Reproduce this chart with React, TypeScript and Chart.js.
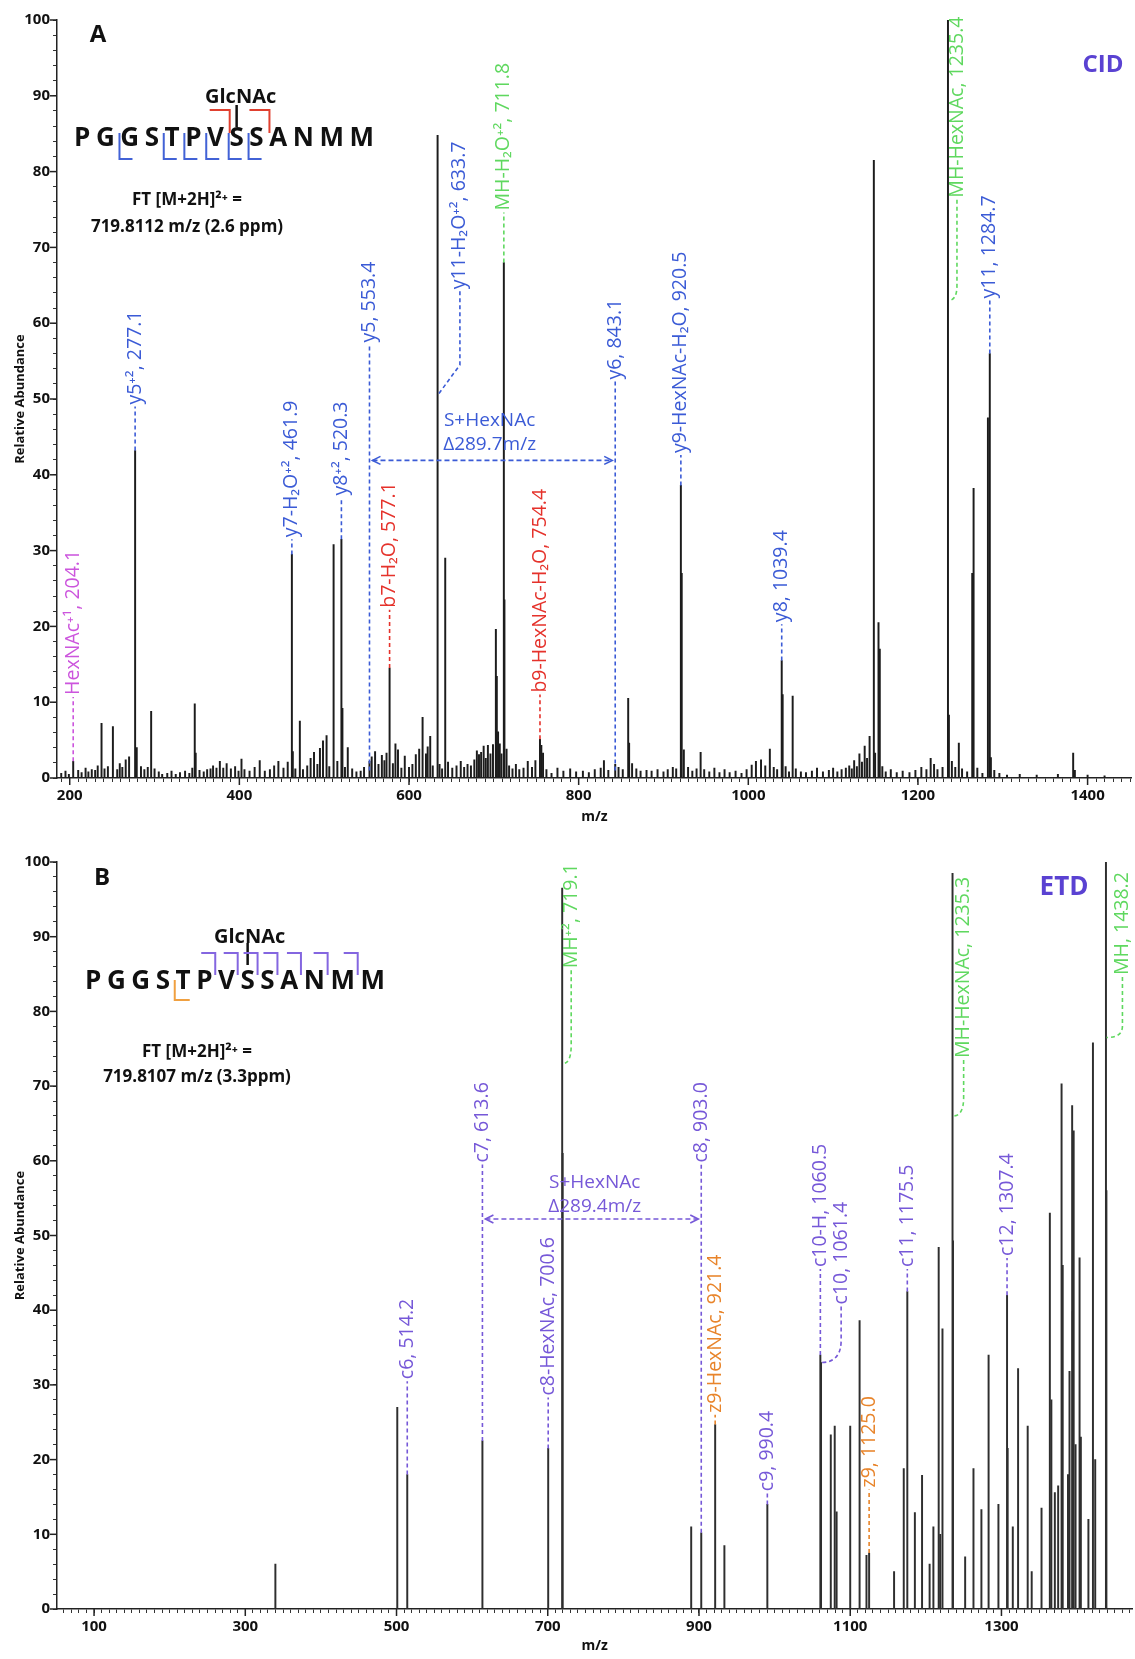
import React, { useEffect, useRef } from 'react';
import { Chart, registerables } from 'chart.js';

Chart.register(...registerables);

const FONT = "'Open Sans', 'DejaVu Sans', sans-serif";

const BLUE = '#3b5bd6';
const RED = '#e5322b';
const GREEN = '#5fd85f';
const MAGENTA = '#cc55dd';
const PURPLE = '#7658d8';
const ORANGE = '#e8842a';
const TITLE_VIOLET = '#5a42d2';

// ---------- shared axis tick labels ----------
const Y_TICK_LABELS = [0, 10, 20, 30, 40, 50, 60, 70, 80, 90, 100];
const A_X_TICK_LABELS = [200, 400, 600, 800, 1000, 1200, 1400];
const B_X_TICK_LABELS = [100, 300, 500, 700, 900, 1100, 1300];

const SEQUENCE = ['P', 'G', 'G', 'S', 'T', 'P', 'V', 'S', 'S', 'A', 'N', 'M', 'M'];
const A_Y_ION_SITES = [2, 4, 5, 6, 7, 8];
const A_B_ION_SITES = [7, 9];
const B_C_ION_SITES = [6, 7, 8, 9, 10, 11, 12];
const B_Z_ION_SITES = [4];

// ---------- Panel A (CID) peaks: [m/z, relative abundance] ----------
const A_PEAKS_MAJOR: [number, number][] = [
  [204.1, 2.2], [237.5, 7.2], [250.9, 6.8], [277.1, 43.2], [296.0, 8.8], [347.4, 9.8],
  [461.9, 29.5], [471.3, 7.5], [511.1, 30.8], [520.3, 31.5], [577.1, 14.5], [616.0, 8.0],
  [633.7, 84.8], [642.7, 29.0], [702.4, 19.6], [711.8, 68.0], [712.5, 23.5], [754.4, 5.1],
  [858.4, 10.5], [920.5, 38.6], [921.5, 27.0], [1039.4, 15.5], [1040.5, 11.0], [1052.3, 10.8],
  [1148.0, 81.5], [1153.5, 20.5], [1155.0, 17.0], [1235.4, 100], [1264.0, 27.0], [1265.6, 38.2],
  [1282.5, 47.5], [1284.7, 56.0], [1383.0, 3.3],
];

const A_PEAKS_MINOR: [number, number][] = [
  [190, 0.6], [195, 0.9], [199, 0.5], [210, 1.0], [214, 0.7], [218.7, 1.3], [222, 0.8], [226, 1.1],
  [230, 1.0], [233, 1.6], [241, 1.2], [245, 1.5], [256, 1.1], [259, 1.9], [262, 1.4], [266, 2.4],
  [270, 2.8], [279, 4.0], [284, 1.5], [288, 1.1], [292, 1.4], [300, 1.2], [305, 0.8], [309, 0.5],
  [315, 0.6], [320, 0.9], [325, 0.5], [330, 0.7], [336, 0.9], [341, 0.6], [344.5, 1.3], [348.5, 3.3],
  [353, 1.0], [358, 0.8], [362, 1.1], [366, 1.2], [369, 1.6], [373, 1.3], [377, 2.2], [381, 1.3],
  [385, 1.9], [390, 1.2], [395, 1.5], [399, 0.9], [402.5, 2.5], [406, 1.1], [412, 0.9], [418, 1.4],
  [424, 2.3], [430, 0.9], [436, 1.1], [441, 1.6], [446, 2.2], [452, 1.3], [457, 2.1], [463, 3.5],
  [466, 1.2], [475, 1.1], [480, 1.6], [484, 2.6], [488, 3.4], [492, 1.8], [495, 3.9], [498.6, 4.9],
  [502.8, 5.6], [506, 1.5], [515.5, 2.2], [521.5, 9.2], [524.5, 1.4], [527.8, 4.0], [533, 1.2],
  [538, 0.8], [543, 0.9], [547, 1.4], [553.4, 2.2], [556, 2.8], [560, 3.5], [564, 1.8], [568, 3.0],
  [571, 2.3], [573.5, 3.3], [581, 1.9], [584, 4.5], [587, 3.7], [591, 1.3], [595, 2.9], [600, 1.4],
  [604, 1.8], [608, 3.1], [612, 3.8], [620, 3.2], [622, 4.1], [625, 5.5], [628, 1.6], [636, 1.8],
  [639, 1.2], [646, 2.1], [651, 1.3], [656, 1.6], [661, 2.2], [665, 1.4], [669, 1.8], [673, 1.6],
  [677, 2.4], [680, 3.6], [682.5, 3.1], [685, 3.4], [688, 4.2], [690.5, 2.6], [693, 4.3], [696, 3.2],
  [699, 4.4], [703.5, 13.4], [705, 6.1], [707, 4.5], [709, 3.2], [715, 3.8], [718, 1.6], [722, 1.2],
  [726, 1.8], [730, 1.1], [735, 1.3], [740, 2.2], [745, 1.4], [749, 2.3], [756, 4.3], [758, 3.3],
  [762, 1.1], [768, 0.6], [775, 1.3], [782, 0.9], [790, 1.2], [797, 0.8], [805, 0.9], [812, 0.7],
  [819, 1.1], [826, 1.3], [829.8, 2.3], [835, 1.0], [843.1, 1.8], [847, 1.4], [852, 1.1], [859.5, 4.6],
  [863, 1.9], [868, 1.2], [873, 0.9], [880, 1.0], [886, 0.9], [893, 1.1], [900, 0.8], [905, 1.1],
  [911, 1.4], [915, 1.2], [924, 3.7], [929, 1.4], [934, 0.9], [939, 1.2], [943.8, 3.4], [948, 1.1],
  [954, 0.8], [960, 1.3], [966, 0.7], [972, 1.1], [978, 0.7], [985, 0.9], [992, 0.6], [998, 1.1],
  [1004, 1.7], [1009, 2.2], [1015, 2.4], [1020, 1.6], [1025.4, 3.8], [1030, 1.4], [1034, 1.1],
  [1044, 1.5], [1048, 0.8], [1056, 1.2], [1062, 0.8], [1068, 0.7], [1075, 0.9], [1081, 1.3],
  [1088, 0.8], [1095, 1.0], [1100, 1.3], [1105, 0.8], [1110, 1.1], [1115, 1.3], [1119, 1.6],
  [1122, 1.2], [1124.8, 2.3], [1128, 1.5], [1131, 3.2], [1134, 2.1], [1137.2, 4.2], [1140, 2.6],
  [1143, 5.5], [1149.5, 3.3], [1158, 1.5], [1162, 0.8], [1168, 1.1], [1175, 0.7], [1182, 0.9],
  [1190, 0.7], [1197, 1.0], [1204, 1.4], [1210, 1.1], [1215, 2.6], [1219, 1.8], [1223, 1.1],
  [1229, 1.4], [1236.5, 8.3], [1240, 2.2], [1244, 1.4], [1248.2, 4.6], [1252, 1.2], [1258, 0.8],
  [1270, 1.3], [1276, 0.6], [1286, 2.7], [1290, 1.0], [1296, 0.6], [1305, 0.4], [1320, 0.5],
  [1340, 0.4], [1365, 0.5], [1385, 1.0], [1400, 0.4], [1420, 0.3],
];

// ---------- Panel B (ETD) peaks ----------
const B_PEAKS: [number, number][] = [
  [339.8, 6.0], [501.0, 27.0], [514.2, 18.0], [613.6, 22.5], [700.6, 21.5], [719.1, 96.5],
  [719.7, 61.0], [889.7, 11.0], [903.0, 10.2], [921.4, 24.7], [933.6, 8.5], [990.4, 14.0],
  [1060.5, 34.0], [1061.4, 33.0], [1074.3, 23.3], [1079.5, 24.5], [1082.0, 13.0], [1100.0, 24.5],
  [1112.4, 38.6], [1121.5, 7.2], [1125.0, 7.5], [1158.0, 5.0], [1170.8, 18.8], [1175.5, 42.5],
  [1185.5, 12.9], [1195.0, 17.9], [1205.0, 6.0], [1210.0, 11.0], [1217.0, 48.4], [1219.0, 10.0],
  [1222.0, 37.5], [1235.3, 98.5], [1235.9, 49.3], [1252.0, 7.0], [1263.0, 18.8], [1273.5, 13.3],
  [1283.0, 34.0], [1296.0, 14.0], [1307.4, 42.0], [1308.2, 21.5], [1315.0, 11.0], [1322.0, 32.2],
  [1334.7, 24.5], [1340.0, 5.0], [1353.0, 13.5], [1364.0, 53.0], [1366.0, 28.0], [1370.6, 15.6],
  [1375.0, 16.5], [1379.5, 70.3], [1381.0, 46.0], [1388.0, 18.0], [1390.0, 31.8], [1393.5, 67.4],
  [1394.3, 39.8], [1395.5, 64.0], [1398.0, 22.0], [1403.3, 47.0], [1405.0, 23.0], [1415.0, 12.0],
  [1421.0, 75.8], [1424.0, 20.0], [1438.2, 100.0], [1438.8, 56.0],
];

type Ann = {
  text: string; mz: number; peak: number; textBottom: number; color: string;
  textMz?: number; elbow?: number; curve?: boolean;
};

const A_LABELS: Ann[] = [
  { text: 'HexNAc⁺¹, 204.1', mz: 204.1, peak: 2.2, textBottom: 10.7, color: MAGENTA },
  { text: 'y5⁺², 277.1', mz: 277.1, peak: 43.2, textBottom: 49.0, color: BLUE },
  { text: 'y7-H₂O⁺², 461.9', mz: 461.9, peak: 29.5, textBottom: 31.5, color: BLUE },
  { text: 'y8⁺², 520.3', mz: 520.3, peak: 31.5, textBottom: 37.0, color: BLUE },
  { text: 'y5, 553.4', mz: 553.4, peak: 1.0, textBottom: 57.2, color: BLUE },
  { text: 'b7-H₂O, 577.1', mz: 577.1, peak: 14.5, textBottom: 22.2, color: RED },
  { text: 'y11-H₂O⁺², 633.7', mz: 634.5, peak: 50.6, textBottom: 64.2, textMz: 660, elbow: 54.5, color: BLUE },
  { text: 'MH-H₂O⁺², 711.8', mz: 711.8, peak: 68.0, textBottom: 74.6, color: GREEN },
  { text: 'b9-HexNAc-H₂O, 754.4', mz: 754.4, peak: 5.1, textBottom: 11.0, color: RED },
  { text: 'y6, 843.1', mz: 843.1, peak: 1.0, textBottom: 52.3, color: BLUE },
  { text: 'y9-HexNAc-H₂O, 920.5', mz: 920.5, peak: 38.6, textBottom: 42.6, color: BLUE },
  { text: 'y8, 1039.4', mz: 1039.4, peak: 15.5, textBottom: 20.3, color: BLUE },
  { text: 'MH-HexNAc, 1235.4', mz: 1236, peak: 63.0, textBottom: 76.3, textMz: 1246, elbow: 65.0, curve: true, color: GREEN },
  { text: 'y11, 1284.7', mz: 1284.7, peak: 56.0, textBottom: 63.0, color: BLUE },
];

const B_LABELS: Ann[] = [
  { text: 'c6, 514.2', mz: 514.2, peak: 18.0, textBottom: 30.5, color: PURPLE },
  { text: 'c7, 613.6', mz: 613.6, peak: 22.5, textBottom: 59.5, color: PURPLE },
  { text: 'c8-HexNAc, 700.6', mz: 700.6, peak: 21.5, textBottom: 28.3, color: PURPLE },
  { text: 'MH⁺², 719.1', mz: 719.6, peak: 73.0, textBottom: 85.5, textMz: 731, elbow: 75.5, curve: true, color: GREEN },
  { text: 'c8, 903.0', mz: 903.0, peak: 10.2, textBottom: 59.5, color: PURPLE },
  { text: 'z9-HexNAc, 921.4', mz: 921.4, peak: 24.7, textBottom: 26.0, color: ORANGE },
  { text: 'c9, 990.4', mz: 990.4, peak: 14.0, textBottom: 15.5, color: PURPLE },
  { text: 'c10-H, 1060.5', mz: 1060.5, peak: 34.0, textBottom: 45.5, color: PURPLE },
  { text: 'c10, 1061.4', mz: 1062, peak: 33.0, textBottom: 40.5, textMz: 1088, elbow: 36.0, curve: true, color: PURPLE },
  { text: 'z9, 1125.0', mz: 1125.0, peak: 7.5, textBottom: 16.0, color: ORANGE },
  { text: 'c11, 1175.5', mz: 1175.5, peak: 42.5, textBottom: 45.5, color: PURPLE },
  { text: 'MH-HexNAc, 1235.3', mz: 1236, peak: 66.0, textBottom: 73.5, textMz: 1250, elbow: 68.5, curve: true, color: GREEN },
  { text: 'c12, 1307.4', mz: 1307.4, peak: 42.0, textBottom: 47.0, color: PURPLE },
  { text: 'MH, 1438.2', mz: 1439, peak: 76.5, textBottom: 84.6, textMz: 1460, elbow: 78, curve: true, color: GREEN },
];

type Delta = { from: number; to: number; level: number; textMz: number; line1: number; line2: number; text1: string; text2: string; color: string };
const A_DELTA: Delta = { from: 553.4, to: 843.1, level: 41.9, textMz: 695, line1: 47.2, line2: 44.0, text1: 'S+HexNAc', text2: 'Δ289.7m/z', color: BLUE };
const B_DELTA: Delta = { from: 613.6, to: 903.0, level: 52.2, textMz: 762, line1: 57.1, line2: 53.9, text1: 'S+HexNAc', text2: 'Δ289.4m/z', color: PURPLE };

// ---------- drawing helpers ----------
function seg(ctx: CanvasRenderingContext2D, x1: number, y1: number, x2: number, y2: number) {
  ctx.beginPath(); ctx.moveTo(x1, y1); ctx.lineTo(x2, y2); ctx.stroke();
}

function txt(ctx: CanvasRenderingContext2D, s: string, x: number, y: number, font: string, color: string, align: CanvasTextAlign = 'center') {
  ctx.font = font; ctx.fillStyle = color; ctx.textAlign = align; ctx.textBaseline = 'middle';
  ctx.fillText(s, x, y);
}

function drawPeptide(ctx: CanvasRenderingContext2D, left: number, width: number, cy: number, size: number) {
  ctx.font = `bold ${size}px ${FONT}`;
  const ws = SEQUENCE.map((s) => ctx.measureText(s).width);
  const sum = ws.reduce((a, b) => a + b, 0);
  const gap = (width - sum) / (SEQUENCE.length - 1);
  const lefts: number[] = [];
  let x = left;
  ws.forEach((w) => { lefts.push(x); x += w + gap; });
  ctx.fillStyle = '#111'; ctx.textAlign = 'left'; ctx.textBaseline = 'alphabetic';
  SEQUENCE.forEach((s, i) => ctx.fillText(s, lefts[i], cy + size * 0.357));
  const centers = lefts.map((l, i) => l + ws[i] / 2);
  const bounds = lefts.slice(1).map((l, i) => (lefts[i] + ws[i] + l) / 2);
  return { centers, bounds };
}

function drawAnn(ctx: CanvasRenderingContext2D, a: Ann, X: (v: number) => number, Y: (v: number) => number) {
  const x0 = X(a.mz), y0 = Y(a.peak);
  const xt = X(a.textMz ?? a.mz), yt = Y(a.textBottom);
  ctx.save();
  ctx.strokeStyle = a.color; ctx.lineWidth = 1.6; ctx.setLineDash([4, 3]);
  ctx.beginPath();
  if (a.textMz === undefined) {
    ctx.moveTo(x0, y0); ctx.lineTo(x0, yt);
  } else {
    ctx.moveTo(xt, yt); ctx.lineTo(xt, Y(a.elbow as number));
    if (a.curve) ctx.quadraticCurveTo(xt, y0, x0, y0); else ctx.lineTo(x0, y0);
  }
  ctx.stroke();
  ctx.setLineDash([]);
  ctx.translate(xt, yt - 2);
  ctx.rotate(-Math.PI / 2);
  ctx.font = `19.5px ${FONT}`; ctx.fillStyle = a.color; ctx.textAlign = 'left'; ctx.textBaseline = 'middle';
  ctx.fillText(a.text, 0, 0);
  ctx.restore();
}

function drawDelta(ctx: CanvasRenderingContext2D, d: Delta, X: (v: number) => number, Y: (v: number) => number) {
  const x1 = X(d.from), x2 = X(d.to), y = Y(d.level);
  ctx.save();
  ctx.strokeStyle = d.color; ctx.lineWidth = 1.6; ctx.setLineDash([5, 3]);
  seg(ctx, x1 + 3, y, x2 - 3, y);
  ctx.setLineDash([]);
  ctx.beginPath(); ctx.moveTo(x1 + 11, y - 4); ctx.lineTo(x1 + 3, y); ctx.lineTo(x1 + 11, y + 4); ctx.stroke();
  ctx.beginPath(); ctx.moveTo(x2 - 11, y - 4); ctx.lineTo(x2 - 3, y); ctx.lineTo(x2 - 11, y + 4); ctx.stroke();
  txt(ctx, d.text1, X(d.textMz), Y(d.line1), `19px ${FONT}`, d.color);
  txt(ctx, d.text2, X(d.textMz), Y(d.line2), `19px ${FONT}`, d.color);
  ctx.restore();
}

function headerA(ctx: CanvasRenderingContext2D) {
  txt(ctx, 'A', 98, 35, `bold 24px ${FONT}`, '#111');
  txt(ctx, 'CID', 1103, 65, `bold 24px ${FONT}`, TITLE_VIOLET);
  const pep = drawPeptide(ctx, 74, 300, 137, 26);
  const s8 = pep.centers[7];
  txt(ctx, 'GlcNAc', s8 + 4, 97, `bold 20px ${FONT}`, '#111');
  ctx.strokeStyle = '#111'; ctx.lineWidth = 2.5; seg(ctx, s8, 105, s8, 127);
  ctx.lineWidth = 2;
  ctx.strokeStyle = '#4262d6';
  A_Y_ION_SITES.forEach((k) => {
    const bx = pep.bounds[k - 1] + 2;
    ctx.beginPath(); ctx.moveTo(bx, 133); ctx.lineTo(bx, 159); ctx.lineTo(bx + 13, 159); ctx.stroke();
  });
  ctx.strokeStyle = '#e0402f';
  A_B_ION_SITES.forEach((k) => {
    const bx = pep.bounds[k - 1] + 3;
    ctx.beginPath(); ctx.moveTo(bx - 20, 110); ctx.lineTo(bx, 110); ctx.lineTo(bx, 133); ctx.stroke();
  });
  txt(ctx, 'FT [M+2H]²⁺ =', 187, 200, `bold 17px ${FONT}`, '#111');
  txt(ctx, '719.8112 m/z (2.6 ppm)', 187, 227, `bold 17px ${FONT}`, '#111');
}

function headerB(ctx: CanvasRenderingContext2D) {
  txt(ctx, 'B', 102, 46, `bold 24px ${FONT}`, '#111');
  txt(ctx, 'ETD', 1064, 56, `bold 26px ${FONT}`, TITLE_VIOLET);
  const pep = drawPeptide(ctx, 85, 300, 148, 26);
  const s8 = pep.centers[7];
  txt(ctx, 'GlcNAc', s8 + 2, 105, `bold 20px ${FONT}`, '#111');
  ctx.strokeStyle = '#111'; ctx.lineWidth = 2.5; seg(ctx, s8, 111, s8, 133);
  ctx.lineWidth = 2;
  ctx.strokeStyle = '#8466e0';
  B_C_ION_SITES.forEach((k) => {
    const bx = pep.bounds[k - 1];
    ctx.beginPath(); ctx.moveTo(bx - 14, 121); ctx.lineTo(bx, 121); ctx.lineTo(bx, 143); ctx.stroke();
  });
  ctx.strokeStyle = '#f0a040';
  B_Z_ION_SITES.forEach((k) => {
    const bx = pep.bounds[k - 1] + 2;
    ctx.beginPath(); ctx.moveTo(bx, 148); ctx.lineTo(bx, 168); ctx.lineTo(bx + 15, 168); ctx.stroke();
  });
  txt(ctx, 'FT [M+2H]²⁺ =', 197, 220, `bold 17px ${FONT}`, '#111');
  txt(ctx, '719.8107 m/z (3.3ppm)', 197, 245, `bold 17px ${FONT}`, '#111');
}

type Panel = {
  name: string; peaks: [number, number][]; xMin: number; xMax: number; xLabels: number[];
  padTop: number; xAxisHeight: number; barColor: string; labels: Ann[]; delta: Delta;
  header: (ctx: CanvasRenderingContext2D) => void;
};

const PANEL_A: Panel = {
  name: 'A', peaks: [...A_PEAKS_MAJOR, ...A_PEAKS_MINOR].sort((a, b) => a[0] - b[0]),
  xMin: 185, xMax: 1452, xLabels: A_X_TICK_LABELS, padTop: 20, xAxisHeight: 52,
  barColor: '#1c1c1c', labels: A_LABELS, delta: A_DELTA, header: headerA,
};
const PANEL_B: Panel = {
  name: 'B', peaks: [...B_PEAKS].sort((a, b) => a[0] - b[0]),
  xMin: 51, xMax: 1473, xLabels: B_X_TICK_LABELS, padTop: 30, xAxisHeight: 50,
  barColor: '#2e2e2e', labels: B_LABELS, delta: B_DELTA, header: headerB,
};

function overlay(p: Panel) {
  return {
    id: 'overlay' + p.name,
    afterDraw(chart: any) {
      const ctx: CanvasRenderingContext2D = chart.ctx;
      const area = chart.chartArea;
      const X = (v: number) => chart.scales.x.getPixelForValue(v);
      const Y = (v: number) => chart.scales.y.getPixelForValue(v);
      ctx.save();
      ctx.strokeStyle = '#222'; ctx.lineWidth = 1.5;
      p.xLabels.forEach((v) => seg(ctx, X(v), area.bottom, X(v), area.bottom + 7));
      Y_TICK_LABELS.forEach((v) => seg(ctx, area.left - 7, Y(v), area.left, Y(v)));
      p.labels.forEach((a) => drawAnn(ctx, a, X, Y));
      drawDelta(ctx, p.delta, X, Y);
      p.header(ctx);
      ctx.restore();
    },
  };
}

function buildConfig(p: Panel): any {
  const xTicks: number[] = [];
  for (let v = Math.ceil(p.xMin / 10) * 10; v <= p.xMax; v += 10) xTicks.push(v);
  const yTicks: number[] = [];
  for (let v = 0; v <= 100; v += 2) yTicks.push(v);
  const tickFont = { family: FONT, size: 15, weight: 'bold' as const };
  return {
    type: 'bar',
    data: {
      datasets: [{
        data: p.peaks.map(([x, y]) => ({ x, y })),
        backgroundColor: p.barColor, borderWidth: 0, barThickness: 1.3,
      }],
    },
    options: {
      responsive: false, animation: false, events: [],
      layout: { padding: { top: p.padTop, left: 0, right: 0, bottom: 0 } },
      plugins: { legend: { display: false }, tooltip: { enabled: false } },
      scales: {
        x: {
          type: 'linear', min: p.xMin, max: p.xMax, offset: false,
          afterBuildTicks: (ax: any) => { ax.ticks = xTicks.map((v) => ({ value: v })); },
          afterFit: (ax: any) => { ax.height = p.xAxisHeight; },
          grid: { drawOnChartArea: false, drawTicks: true, tickLength: 4, color: '#333', offset: false },
          border: { display: true, color: '#222', width: 1.5 },
          ticks: {
            autoSkip: false, maxRotation: 0, minRotation: 0, padding: 5, color: '#111', font: tickFont,
            callback: (v: number) => (p.xLabels.includes(Math.round(v)) ? String(Math.round(v)) : ''),
          },
          title: { display: true, text: 'm/z', color: '#111', font: { family: FONT, size: 14, weight: 'bold' }, padding: { top: 0, bottom: 4.6 } },
        },
        y: {
          min: 0, max: 100,
          afterBuildTicks: (ax: any) => { ax.ticks = yTicks.map((v) => ({ value: v })); },
          afterFit: (ax: any) => { ax.width = 57; },
          grid: { drawOnChartArea: false, drawTicks: true, tickLength: 4, color: '#333' },
          border: { display: true, color: '#222', width: 1.5 },
          ticks: {
            autoSkip: false, padding: 3, color: '#111', font: tickFont,
            callback: (v: number) => (Y_TICK_LABELS.includes(Math.round(v)) ? String(Math.round(v)) : ''),
          },
          title: { display: true, text: 'Relative Abundance', color: '#111', font: { family: FONT, size: 13, weight: 'bold' }, padding: { top: 12, bottom: 0 } },
        },
      },
    },
    plugins: [overlay(p)],
  };
}

export default function App() {
  const refA = useRef<HTMLCanvasElement>(null);
  const refB = useRef<HTMLCanvasElement>(null);
  useEffect(() => {
    const a = new Chart(refA.current as HTMLCanvasElement, buildConfig(PANEL_A));
    const b = new Chart(refB.current as HTMLCanvasElement, buildConfig(PANEL_B));
    return () => { a.destroy(); b.destroy(); };
  }, []);
  return (
    <div style={{ position: 'absolute', left: 0, top: 0, width: 1135, height: 1659, background: '#fff' }}>
      <canvas ref={refA} width={1135} height={830} style={{ position: 'absolute', left: 0, top: 0, width: 1135, height: 830 }} />
      <canvas ref={refB} width={1135} height={827} style={{ position: 'absolute', left: 0, top: 832, width: 1135, height: 827 }} />
    </div>
  );
}
